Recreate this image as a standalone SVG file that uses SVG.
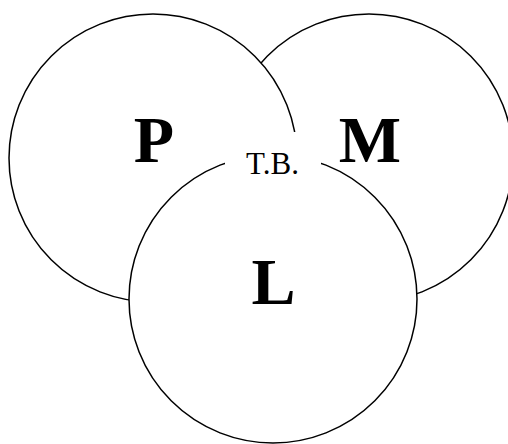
<svg xmlns="http://www.w3.org/2000/svg" width="508" height="444" viewBox="0 0 508 444">
<style>
.c{fill:#fff;stroke:#000;stroke-width:1.5}
.big{font-family:"Liberation Serif","Times New Roman",serif;font-weight:bold;font-size:66px;text-anchor:middle;fill:#000}
.small{font-family:"Liberation Serif","Times New Roman",serif;font-size:31px;text-anchor:middle;fill:#000}
</style>
<rect width="508" height="444" fill="#fff"/>
<g id="node-M"><circle class="c" cx="369" cy="158" r="144"/></g>
<g id="node-P"><circle class="c" cx="153" cy="158" r="144"/></g>
<g id="node-L"><circle class="c" cx="273" cy="299" r="144"/></g>
<g id="node-TB">
<rect x="225" y="132" width="96" height="60" fill="#fff"/>
<text class="small" x="272.5" y="174">T.B.</text>
</g>
<g id="labels">
<text class="big" x="154" y="162">P</text>
<text class="big" x="370" y="162">M</text>
<text class="big" x="273.5" y="304">L</text>
</g>
<g id="connectors"/>
</svg>
